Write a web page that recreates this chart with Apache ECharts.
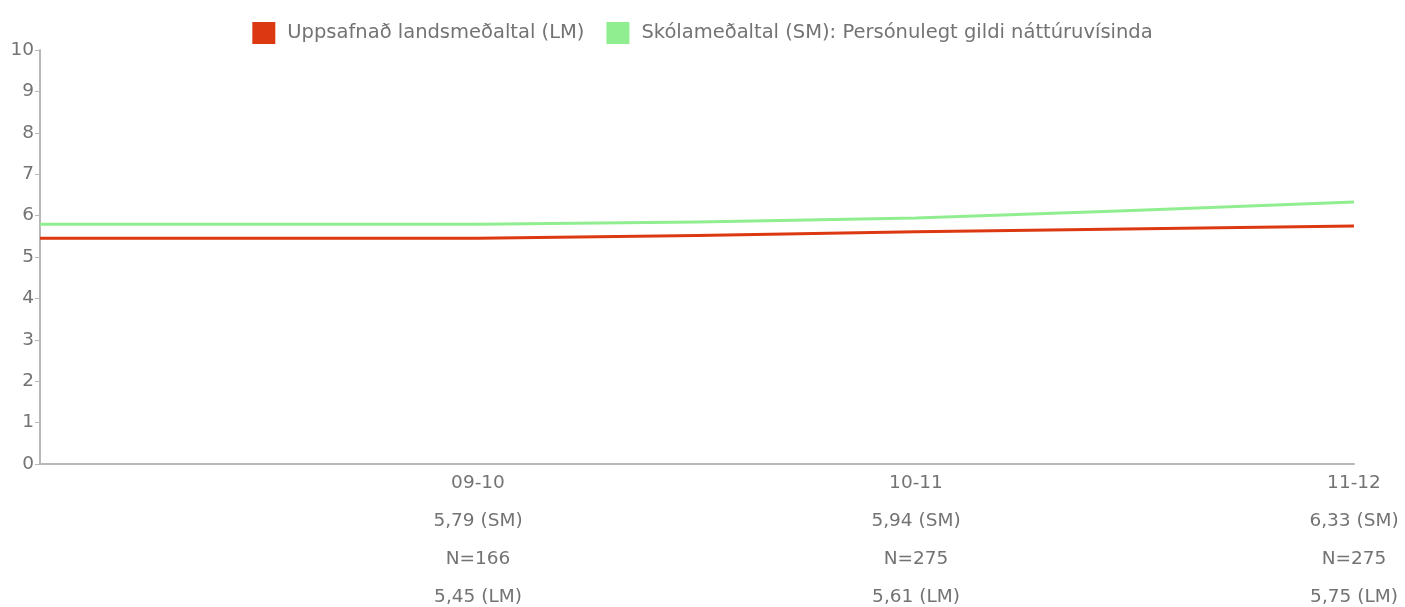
<!DOCTYPE html>
<html>
<head>
<meta charset="utf-8">
<script src="https://cdn.jsdelivr.net/npm/echarts@6/dist/echarts.min.js"></script>
<style>html,body{margin:0;padding:0;background:#fff}#c{width:1405px;height:607px}</style>
</head>
<body>
<div id="c"></div>
<script>
// Categories (first is an unlabelled lead-in point)
var categories = ["", "09-10", "10-11", "11-12"];
var smValues = [5.79, 5.79, 5.94, 6.33];
var lmValues = [5.45, 5.45, 5.61, 5.75];
var nValues = [166, 166, 275, 275];
var yTicks = [0, 1, 2, 3, 4, 5, 6, 7, 8, 9, 10];
var lmName = "Uppsafnað landsmeðaltal (LM)";
var smName = "Skólameðaltal (SM): Persónulegt gildi náttúruvísinda";

function fmt(v) { return v.toFixed(2).replace('.', ','); }

var chart = echarts.init(document.getElementById('c'));
chart.setOption({
  animation: false,
  textStyle: { fontFamily: 'DejaVu Sans, sans-serif' },
  legend: {
    top: 17,
    left: 'center',
    itemWidth: 23,
    itemHeight: 22,
    itemGap: 22,
    icon: 'rect',
    textStyle: { fontSize: 19.5, color: '#737373', padding: [0, 0, 0, 7] },
    data: [lmName, smName]
  },
  grid: { left: 40, right: 51, top: 50, bottom: 143, containLabel: false, outerBoundsMode: 'none' },
  xAxis: {
    type: 'category',
    boundaryGap: false,
    data: categories,
    axisLine: { lineStyle: { color: '#b8b8b8', width: 2 } },
    axisTick: { show: false },
    axisLabel: {
      margin: 0,
      color: '#737373',
      fontSize: 18.5,
      lineHeight: 38,
      interval: 0,
      formatter: function (val, idx) {
        if (!val) return '';
        return val + '\n' + fmt(smValues[idx]) + ' (SM)\nN=' + nValues[idx] + '\n' + fmt(lmValues[idx]) + ' (LM)';
      }
    }
  },
  yAxis: {
    type: 'value',
    min: yTicks[0],
    max: yTicks[yTicks.length - 1],
    interval: 1,
    axisLine: { show: true, lineStyle: { color: '#b8b8b8', width: 2 } },
    axisTick: { show: true, length: 5, lineStyle: { color: '#b8b8b8' } },
    splitLine: { show: false },
    axisLabel: { color: '#737373', fontSize: 18.5, margin: 6 }
  },
  series: [
    {
      name: lmName,
      type: 'line',
      data: lmValues,
      smooth: 0.2,
      showSymbol: false,
      itemStyle: { color: '#dc3912' },
      lineStyle: { color: '#dc3912', width: 3 },
      z: 3
    },
    {
      name: smName,
      type: 'line',
      data: smValues,
      smooth: 0.2,
      showSymbol: false,
      itemStyle: { color: '#90ee90' },
      lineStyle: { color: '#90ee90', width: 3 },
      z: 2
    }
  ]
});
</script>
</body>
</html>
